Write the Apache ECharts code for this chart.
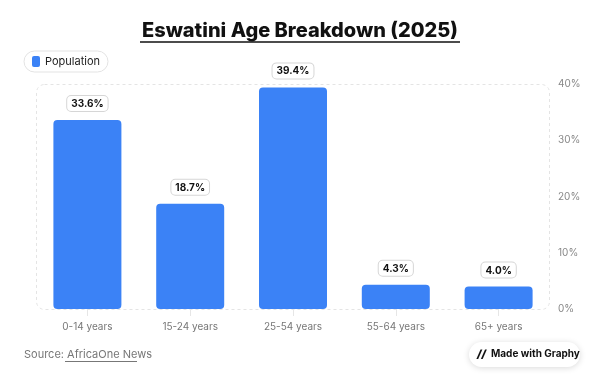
<!DOCTYPE html>
<html><head><meta charset="utf-8">
<script src="https://cdn.jsdelivr.net/npm/echarts@6/dist/echarts.min.js"></script>
<style>html,body{margin:0;padding:0;background:#fff}#c{width:600px;height:384px}</style>
</head><body><div id="c"></div>
<script>
const categories = ['0-14 years', '15-24 years', '25-54 years', '55-64 years', '65+ years'];
const populationValues = [33.6, 18.7, 39.4, 4.3, 4.0];
const seriesName = 'Population';
const yTicks = [0, 10, 20, 30, 40];

const font = 'Inter, "Noto Sans", sans-serif';
const chart = echarts.init(document.getElementById('c'), null, {renderer: 'canvas'});
chart.setOption({
  animation: false,
  textStyle: {fontFamily: font},
  title: {
    text: 'Eswatini Age Breakdown (2025)',
    left: 'center', top: 16,
    textStyle: {fontSize: 20, fontWeight: 800, color: '#111', fontFamily: font}
  },
  legend: {
    data: [seriesName],
    left: 24, top: 51,
    icon: 'roundRect', itemWidth: 8, itemHeight: 11, itemGap: 5,
    borderColor: '#e3e3e3', borderWidth: 1, borderRadius: 11,
    padding: [5, 8, 5, 8],
    textStyle: {fontSize: 11, color: '#222', fontFamily: font}
  },
  grid: {left: 36, right: 50, top: 84, bottom: 75},
  xAxis: {
    type: 'category', data: categories,
    axisLine: {show: false},
    axisTick: {show: true, alignWithLabel: true, length: 7, lineStyle: {color: '#e6e6e6'}},
    axisLabel: {fontSize: 10, color: '#777', margin: 13, fontFamily: font}
  },
  yAxis: {
    type: 'value', position: 'right', min: yTicks[0], max: yTicks[yTicks.length-1], interval: 10,
    splitLine: {show: false}, axisLine: {show: false}, axisTick: {show: false},
    axisLabel: {fontSize: 10, color: '#888', margin: 8, formatter: '{value}%', fontFamily: font}
  },
  series: [{
    name: seriesName, type: 'bar', data: populationValues, barWidth: 68,
    itemStyle: {color: '#3b82f6', borderRadius: 4},
    label: {
      show: true, position: 'top', distance: 9,
      formatter: p => p.value.toFixed(1) + '%',
      fontSize: 10, fontWeight: 700, color: '#111', fontFamily: font,
      backgroundColor: '#fff', borderColor: '#d6d6d6', borderWidth: 1, borderRadius: 4,
      padding: [3, 4, 2, 4]
    }
  }],
  graphic: [
    {type: 'rect', z: -1, shape: {x: 36.5, y: 84.5, width: 513, height: 225, r: 8},
     style: {fill: 'none', stroke: '#e4e4e4', lineWidth: 1, lineDash: [3, 3]}},
    {type: 'line', shape: {x1: 140, y1: 42, x2: 460, y2: 42}, style: {stroke: '#111', lineWidth: 1.5}},
    {type: 'text', left: 24, top: 349, style: {text: 'Source: AfricaOne News', fontSize: 11, fill: '#777', fontFamily: font}},
    {type: 'line', shape: {x1: 65, y1: 361.5, x2: 137, y2: 361.5}, style: {stroke: '#777', lineWidth: 1}},
    {type: 'rect', shape: {x: 469, y: 342, width: 111, height: 25, r: 12.5},
     style: {fill: '#fff', shadowBlur: 6, shadowColor: 'rgba(0,0,0,0.15)', shadowOffsetY: 1}},
    {type: 'text', left: 477, top: 349, style: {text: '//', fontSize: 11, fontWeight: 900, fill: '#111', fontStyle: 'italic', fontFamily: font}},
    {type: 'text', left: 491, top: 349, style: {text: 'Made with Graphy', fontSize: 10, fontWeight: 700, fill: '#111', fontFamily: font}}
  ]
});
</script></body></html>
